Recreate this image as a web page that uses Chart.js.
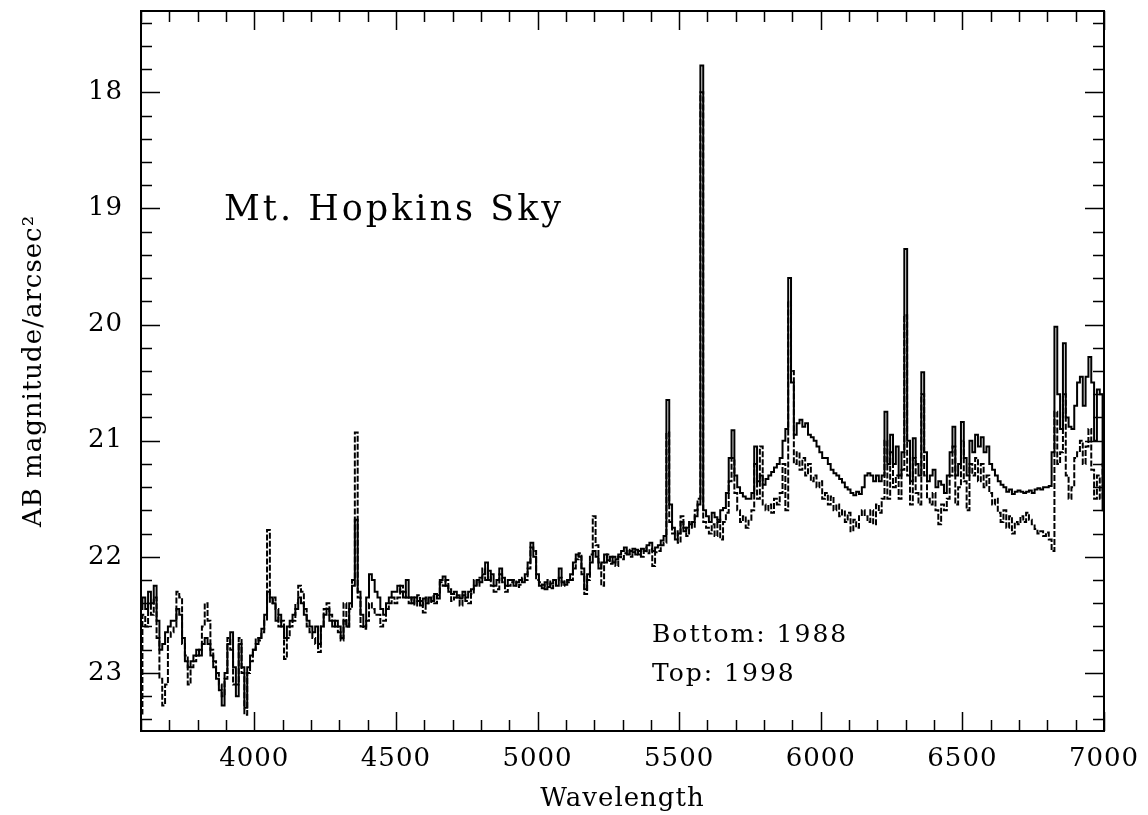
<!DOCTYPE html>
<html>
<head>
<meta charset="utf-8">
<script src="https://cdn.jsdelivr.net/npm/chart.js@4.4.0/dist/chart.umd.min.js"></script>
<style>
  html, body { margin: 0; padding: 0; background: #fff; }
  canvas { display: block; }
</style>
</head>
<body>
<canvas id="skyChart" width="1148" height="815"></canvas>
<script>
// wavelength grid (Angstrom), 10 A bins
const wavelengths = [
  3600,3610,3620,3630,3640,3650,3660,3670,3680,3690,
  3700,3710,3720,3730,3740,3750,3760,3770,3780,3790,
  3800,3810,3820,3830,3840,3850,3860,3870,3880,3890,
  3900,3910,3920,3930,3940,3950,3960,3970,3980,3990,
  4000,4010,4020,4030,4040,4050,4060,4070,4080,4090,
  4100,4110,4120,4130,4140,4150,4160,4170,4180,4190,
  4200,4210,4220,4230,4240,4250,4260,4270,4280,4290,
  4300,4310,4320,4330,4340,4350,4360,4370,4380,4390,
  4400,4410,4420,4430,4440,4450,4460,4470,4480,4490,
  4500,4510,4520,4530,4540,4550,4560,4570,4580,4590,
  4600,4610,4620,4630,4640,4650,4660,4670,4680,4690,
  4700,4710,4720,4730,4740,4750,4760,4770,4780,4790,
  4800,4810,4820,4830,4840,4850,4860,4870,4880,4890,
  4900,4910,4920,4930,4940,4950,4960,4970,4980,4990,
  5000,5010,5020,5030,5040,5050,5060,5070,5080,5090,
  5100,5110,5120,5130,5140,5150,5160,5170,5180,5190,
  5200,5210,5220,5230,5240,5250,5260,5270,5280,5290,
  5300,5310,5320,5330,5340,5350,5360,5370,5380,5390,
  5400,5410,5420,5430,5440,5450,5460,5470,5480,5490,
  5500,5510,5520,5530,5540,5550,5560,5570,5580,5590,
  5600,5610,5620,5630,5640,5650,5660,5670,5680,5690,
  5700,5710,5720,5730,5740,5750,5760,5770,5780,5790,
  5800,5810,5820,5830,5840,5850,5860,5870,5880,5890,
  5900,5910,5920,5930,5940,5950,5960,5970,5980,5990,
  6000,6010,6020,6030,6040,6050,6060,6070,6080,6090,
  6100,6110,6120,6130,6140,6150,6160,6170,6180,6190,
  6200,6210,6220,6230,6240,6250,6260,6270,6280,6290,
  6300,6310,6320,6330,6340,6350,6360,6370,6380,6390,
  6400,6410,6420,6430,6440,6450,6460,6470,6480,6490,
  6500,6510,6520,6530,6540,6550,6560,6570,6580,6590,
  6600,6610,6620,6630,6640,6650,6660,6670,6680,6690,
  6700,6710,6720,6730,6740,6750,6760,6770,6780,6790,
  6800,6810,6820,6830,6840,6850,6860,6870,6880,6890,
  6900,6910,6920,6930,6940,6950,6960,6970,6980,6990,
  7000
];

// 1998 spectrum (upper curve, solid)
const mag1998 = [
  22.45,22.35,22.45,22.30,22.40,22.25,22.55,22.80,22.75,22.65,
  22.60,22.55,22.55,22.45,22.50,22.70,22.90,22.95,22.90,22.85,
  22.80,22.85,22.75,22.70,22.75,22.85,22.95,23.05,23.15,23.28,
  23.00,22.75,22.65,22.95,23.20,22.75,22.95,23.30,22.95,22.85,
  22.80,22.75,22.70,22.62,22.50,22.30,22.35,22.40,22.55,22.50,
  22.60,22.70,22.60,22.55,22.50,22.45,22.35,22.40,22.50,22.55,
  22.60,22.65,22.60,22.75,22.60,22.50,22.45,22.55,22.60,22.55,
  22.60,22.70,22.55,22.60,22.40,22.25,21.68,22.30,22.50,22.60,
  22.35,22.15,22.20,22.30,22.35,22.45,22.50,22.40,22.35,22.30,
  22.30,22.25,22.30,22.35,22.20,22.35,22.40,22.35,22.38,22.42,
  22.36,22.40,22.35,22.38,22.32,22.36,22.20,22.17,22.25,22.30,
  22.32,22.30,22.35,22.36,22.30,22.35,22.30,22.28,22.25,22.20,
  22.22,22.15,22.05,22.20,22.15,22.25,22.20,22.10,22.18,22.25,
  22.20,22.20,22.25,22.22,22.20,22.22,22.15,22.05,21.88,22.00,
  22.15,22.25,22.27,22.22,22.26,22.23,22.20,22.25,22.10,22.22,
  22.24,22.20,22.15,22.05,21.98,22.00,22.10,22.28,22.15,22.05,
  21.95,22.00,22.10,22.05,21.98,22.03,22.00,22.05,22.02,21.98,
  21.95,21.92,21.98,21.95,21.96,21.94,21.98,21.93,21.95,21.90,
  21.88,21.95,21.92,21.90,21.86,21.82,20.65,21.55,21.75,21.85,
  21.80,21.70,21.78,21.75,21.72,21.70,21.65,21.55,17.77,21.60,
  21.65,21.70,21.62,21.66,21.70,21.60,21.58,21.45,21.15,20.91,
  21.30,21.40,21.45,21.48,21.50,21.50,21.45,21.05,21.35,21.30,
  21.38,21.33,21.30,21.27,21.23,21.20,21.15,21.00,20.90,19.60,
  20.50,20.95,20.85,20.82,20.88,20.85,20.95,20.97,21.00,21.05,
  21.10,21.15,21.15,21.20,21.25,21.28,21.30,21.33,21.36,21.40,
  21.42,21.45,21.47,21.44,21.46,21.40,21.30,21.28,21.30,21.35,
  21.30,21.35,21.30,20.75,21.20,20.95,21.20,21.05,21.30,21.10,
  19.35,21.00,21.35,20.98,21.20,21.30,20.41,21.10,21.35,21.30,
  21.25,21.40,21.35,21.38,21.45,21.30,21.10,20.88,21.30,21.20,
  20.84,21.15,21.30,21.00,21.10,20.95,21.05,20.97,21.10,21.05,
  21.20,21.25,21.30,21.35,21.38,21.40,21.44,21.42,21.46,21.44,
  21.43,21.44,21.45,21.44,21.43,21.45,21.42,21.41,21.42,21.40,
  21.40,21.39,21.10,20.02,20.60,20.90,20.16,20.80,20.88,20.90,
  20.70,20.50,20.45,20.70,20.45,20.28,20.50,21.00,20.56,20.60,
  21.60
];

// 1988 spectrum (lower curve, dashed)
const mag1988 = [
  23.35,22.50,22.60,22.40,22.50,22.35,22.70,23.05,23.28,23.10,
  22.70,22.65,22.60,22.30,22.35,22.75,22.85,23.10,22.95,22.90,
  22.85,22.80,22.60,22.40,22.55,22.80,22.90,23.00,23.10,23.20,
  23.05,22.70,22.80,23.10,23.10,22.70,23.00,23.36,23.00,22.90,
  22.80,22.70,22.72,22.65,22.55,21.77,22.40,22.35,22.45,22.60,
  22.55,22.88,22.70,22.60,22.55,22.40,22.25,22.30,22.45,22.60,
  22.65,22.70,22.75,22.82,22.60,22.45,22.40,22.50,22.55,22.60,
  22.65,22.72,22.40,22.60,22.45,22.20,20.93,22.35,22.60,22.62,
  22.55,22.40,22.45,22.50,22.50,22.60,22.55,22.45,22.40,22.35,
  22.40,22.35,22.25,22.30,22.35,22.40,22.35,22.42,22.33,22.38,
  22.48,22.35,22.40,22.34,22.40,22.33,22.22,22.25,22.20,22.28,
  22.38,22.35,22.33,22.42,22.33,22.38,22.40,22.32,22.20,22.25,
  22.18,22.10,22.20,22.12,22.25,22.30,22.28,22.15,22.22,22.30,
  22.25,22.22,22.20,22.26,22.24,22.18,22.20,22.10,21.92,21.95,
  22.20,22.22,22.24,22.28,22.20,22.27,22.24,22.20,22.18,22.25,
  22.20,22.22,22.20,22.10,22.02,21.97,22.15,22.32,22.20,21.98,
  21.65,21.90,22.05,22.25,22.05,21.98,22.06,22.00,22.08,22.00,
  22.02,21.97,21.94,22.00,21.93,21.98,21.95,22.00,21.92,21.97,
  21.93,22.08,21.96,21.95,21.90,21.88,20.93,21.70,21.80,21.78,
  21.88,21.65,21.75,21.82,21.70,21.75,21.60,21.50,18.00,21.70,
  21.75,21.80,21.72,21.82,21.68,21.85,21.70,21.62,21.35,21.15,
  21.45,21.60,21.70,21.65,21.75,21.68,21.60,21.20,21.50,21.05,
  21.55,21.60,21.55,21.62,21.50,21.55,21.45,21.20,21.60,19.80,
  20.40,21.20,21.10,21.25,21.15,21.30,21.20,21.35,21.30,21.40,
  21.35,21.50,21.45,21.55,21.48,21.60,21.55,21.65,21.60,21.70,
  21.62,21.78,21.68,21.75,21.65,21.60,21.65,21.70,21.60,21.72,
  21.55,21.62,21.50,21.00,21.50,21.10,21.40,21.30,21.50,21.25,
  19.92,21.30,21.55,21.15,21.45,21.55,20.60,21.30,21.50,21.55,
  21.45,21.60,21.72,21.55,21.60,21.50,21.30,21.05,21.55,21.40,
  21.00,21.35,21.60,21.20,21.30,21.15,21.35,21.20,21.40,21.30,
  21.45,21.55,21.50,21.62,21.70,21.60,21.75,21.65,21.80,21.70,
  21.72,21.65,21.70,21.62,21.68,21.72,21.76,21.80,21.78,21.82,
  21.79,21.85,21.95,20.75,21.20,21.10,20.60,21.30,21.50,21.40,
  21.15,21.10,21.00,21.20,21.05,20.90,21.25,21.50,21.30,21.50,
  21.20
];

const xTickValues = [4000, 4500, 5000, 5500, 6000, 6500, 7000];
const yTickValues = [18, 19, 20, 21, 22, 23];

// textos dentro do grafico (posicao em unidades dos eixos)
const notes = [
  { text: 'Mt. Hopkins Sky', x: 3893, y: 19.10, size: 35, spacing: 3 },
  { text: 'Bottom: 1988', x: 5404, y: 22.73, size: 25, spacing: 2 },
  { text: 'Top: 1998', x: 5404, y: 23.07, size: 25, spacing: 2 }
];

Chart.defaults.font.family = "'DejaVu Serif', serif";
Chart.defaults.color = '#000';

// moldura com tracinhos para dentro nos quatro lados
const frameTicks = {
  id: 'frameTicks',
  beforeDraw(chart) {
    chart.ctx.letterSpacing = '1px';
  },
  afterDatasetsDraw(chart) {
    const { ctx, chartArea: a, scales: { x, y } } = chart;
    ctx.save();
    ctx.strokeStyle = '#000';
    ctx.lineWidth = 1.5;
    ctx.beginPath();
    for (let v = 3600; v <= 7000; v += 100) {
      const px = Math.round(x.getPixelForValue(v)) + 0.5;
      const len = v % 500 === 0 ? 19 : 11;
      ctx.moveTo(px, a.bottom); ctx.lineTo(px, a.bottom - len);
      ctx.moveTo(px, a.top); ctx.lineTo(px, a.top + len);
    }
    for (let k = 87; k <= 117; k++) {
      const py = Math.round(y.getPixelForValue(k / 5)) + 0.5;
      const len = k % 5 === 0 ? 19 : 11;
      ctx.moveTo(a.left, py); ctx.lineTo(a.left + len, py);
      ctx.moveTo(a.right, py); ctx.lineTo(a.right - len, py);
    }
    ctx.stroke();
    ctx.lineWidth = 2;
    ctx.strokeRect(a.left, a.top, a.right - a.left, a.bottom - a.top);

    ctx.fillStyle = '#000';
    ctx.textAlign = 'left';
    ctx.textBaseline = 'alphabetic';
    notes.forEach(n => {
      ctx.font = n.size + "px 'DejaVu Serif'";
      ctx.letterSpacing = n.spacing + 'px';
      ctx.fillText(n.text, x.getPixelForValue(n.x), y.getPixelForValue(n.y));
    });
    ctx.restore();
  }
};

const axisFont = { size: 26 };

new Chart(document.getElementById('skyChart'), {
  type: 'line',
  data: {
    datasets: [
      {
        label: '1998',
        data: wavelengths.map((w, i) => ({ x: w, y: mag1998[i] })),
        borderColor: '#000',
        borderWidth: 2,
        stepped: 'middle',
        pointRadius: 0,
        fill: false
      },
      {
        label: '1988',
        data: wavelengths.map((w, i) => ({ x: w, y: mag1988[i] })),
        borderColor: '#000',
        borderWidth: 2,
        borderDash: [6, 2],
        stepped: 'middle',
        pointRadius: 0,
        fill: false
      }
    ]
  },
  options: {
    responsive: false,
    animation: false,
    devicePixelRatio: 1,
    layout: { padding: { top: 11, right: 44, left: 0, bottom: 0 } },
    plugins: {
      legend: { display: false },
      tooltip: { enabled: false }
    },
    scales: {
      x: {
        type: 'linear',
        min: 3600,
        max: 7000,
        grid: { display: false, drawTicks: false },
        border: { display: false },
        afterFit: s => { s.height = 84; s.paddingLeft = 0; s.paddingRight = 0; },
        afterBuildTicks: s => { s.ticks = xTickValues.map(v => ({ value: v })); },
        ticks: {
          font: axisFont,
          padding: 13,
          maxRotation: 0,
          autoSkip: false,
          callback: v => String(v)
        },
        title: {
          display: true,
          text: 'Wavelength',
          font: axisFont,
          padding: { top: 0, bottom: 0 }
        }
      },
      y: {
        type: 'linear',
        reverse: true,
        min: 17.3,
        max: 23.5,
        grid: { display: false, drawTicks: false },
        border: { display: false },
        afterFit: s => { s.width = 141; s.paddingTop = 0; s.paddingBottom = 0; },
        afterBuildTicks: s => { s.ticks = yTickValues.map(v => ({ value: v })); },
        ticks: {
          font: axisFont,
          padding: 18,
          autoSkip: false,
          callback: v => String(v)
        },
        title: {
          display: true,
          text: 'AB magnitude/arcsec²',
          font: axisFont,
          padding: { top: 19, bottom: 0 }
        }
      }
    }
  },
  plugins: [frameTicks]
});
</script>
</body>
</html>
